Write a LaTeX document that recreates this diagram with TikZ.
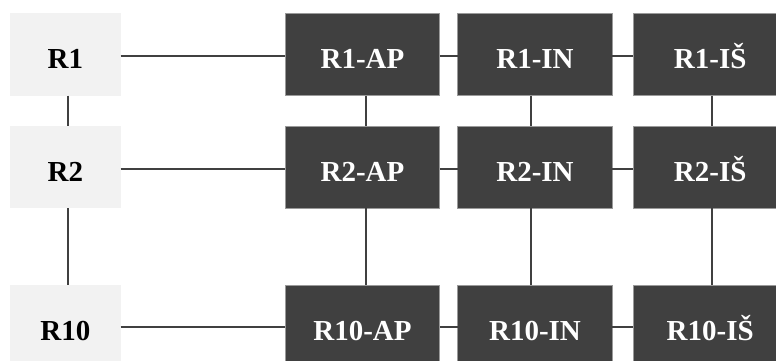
\documentclass[tikz,border=0pt]{standalone}
\usepackage{fontspec}
\setmainfont{Liberation Serif}
\definecolor{darkfill}{HTML}{404040}
\definecolor{lightfill}{HTML}{F2F2F2}
\definecolor{edgegray}{HTML}{9A9A9A}
\definecolor{wire}{HTML}{404040}
\begin{document}
\begin{tikzpicture}[x=1pt,y=-1pt,
  base/.style={rectangle, inner sep=0pt, outer sep=0pt,
    text height=27.7pt, text depth=0pt,
    font=\fontsize{29}{29}\selectfont\bfseries},
  roundbox/.style={base, fill=lightfill, text=black,
    minimum width=110.7pt, minimum height=82.4pt},
  stagebox/.style={base, fill=darkfill, draw=edgegray, line width=0.8pt,
    text=white, minimum width=154.6pt, minimum height=82.4pt},
  link/.style={draw=wire, line width=2pt}]
\useasboundingbox (0,0) rectangle (776,361);
\clip (0,0) rectangle (776,361);

% left column
\node[roundbox] (r1)  at (65.3,54.5)  {R1};
\node[roundbox] (r2)  at (65.3,167.2) {R2};
\node[roundbox] (r10) at (65.3,326.2) {R10};

% stage grid
\node[stagebox] (r1ap)  at (362.5,54.5)  {R1-AP};
\node[stagebox] (r1in)  at (535,54.5)    {R1-IN};
\node[stagebox] (r1is)  at (710.2,54.5)  {R1-IŠ};
\node[stagebox] (r2ap)  at (362.5,167.2) {R2-AP};
\node[stagebox] (r2in)  at (535,167.2)   {R2-IN};
\node[stagebox] (r2is)  at (710.2,167.2) {R2-IŠ};
\node[stagebox] (r10ap) at (362.5,326.2) {R10-AP};
\node[stagebox] (r10in) at (535,326.2)   {R10-IN};
\node[stagebox] (r10is) at (710.2,326.2) {R10-IŠ};

% horizontal links
\foreach \a/\b/\s in {r1/r1ap/-1.2, r1ap/r1in/-1.2, r1in/r1is/-1.2,
                     r2/r2ap/-2, r2ap/r2in/-2, r2in/r2is/-2,
                     r10/r10ap/-0.5, r10ap/r10in/-0.5, r10in/r10is/-0.5}
  \draw[link] ([yshift=\s]\a.east) -- ([yshift=\s]\b.west);

% vertical links
\foreach \a/\b/\s in {r1/r2/3, r2/r10/3,
                     r1ap/r2ap/3.5, r2ap/r10ap/3.5,
                     r1in/r2in/-4.3, r2in/r10in/-4.3,
                     r1is/r2is/1.5, r2is/r10is/1.5}
  \draw[link] ([xshift=\s]\a.south) -- ([xshift=\s]\b.north);
\end{tikzpicture}
\end{document}
